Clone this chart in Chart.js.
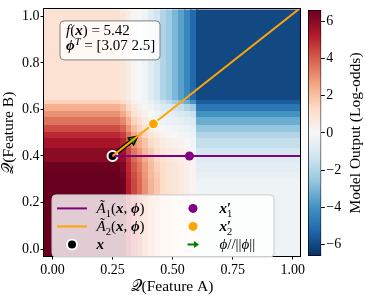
<!DOCTYPE html>
<html>
<head>
<meta charset="utf-8">
<script src="https://cdn.jsdelivr.net/npm/chart.js@4.4.1/dist/chart.umd.min.js"></script>
<style>
  html, body { margin: 0; padding: 0; background: #fff; }
  #wrap { position: relative; width: 366px; height: 298px; }
  #main { position: absolute; left: 0; top: 0; }
  #cbar { position: absolute; left: 300px; top: 0; }
</style>
</head>
<body>
<div id="wrap">
  <canvas id="main" width="366" height="298"></canvas>
  <canvas id="cbar" width="66" height="298"></canvas>
</div>
<script>
// heatmap grid (column / row edges in feature units)
const heatXEdges = [-0.035, 0.285, 0.31, 0.33, 0.355, 0.375, 0.40, 0.425, 0.45, 0.475, 0.50, 0.525, 0.55, 0.575, 0.60, 1.03];
const heatYEdges = [1.03, 0.64, 0.62, 0.59, 0.565, 0.53, 0.50, 0.475, 0.43, 0.40, 0.37, 0.33, 0.30, -0.03]; // top -> bottom
// model output (log-odds), one row per y band, top -> bottom
const modelOutput = [
  [1.0, 0.8, 0.5, 0.1, 0.0, -0.3, -0.8, -1.3, -2.0, -2.4, -3.0, -3.6, -4.3, -5.2, -6.0],
  [1.5, 1.2, 0.8, 0.3, 0.1, -0.2, -0.5, -0.9, -1.4, -1.8, -2.3, -2.8, -3.3, -4.0, -5.5],
  [2.4, 2.0, 1.3, 0.7, 0.4, 0.1, -0.2, -0.5, -0.8, -1.0, -1.3, -1.6, -2.0, -2.4, -4.8],
  [3.0, 2.6, 1.8, 1.0, 0.6, 0.3, 0.0, -0.3, -0.5, -0.6, -0.8, -1.0, -1.2, -1.5, -4.0],
  [3.6, 3.2, 2.4, 1.5, 1.0, 0.6, 0.2, -0.1, -0.3, -0.4, -0.5, -0.6, -0.8, -1.0, -3.3],
  [4.3, 3.9, 3.0, 2.0, 1.5, 1.0, 0.5, 0.2, 0.0, -0.1, -0.2, -0.3, -0.4, -0.6, -2.6],
  [5.0, 4.6, 3.6, 2.6, 2.0, 1.4, 0.9, 0.5, 0.2, 0.1, 0.0, -0.1, -0.2, -0.4, -2.0],
  [5.5, 5.1, 4.0, 3.0, 2.5, 1.9, 1.3, 0.9, 0.5, 0.4, 0.3, 0.2, 0.0, -0.2, -1.6],
  [6.0, 5.6, 4.5, 3.5, 2.9, 2.2, 1.7, 1.2, 0.8, 0.6, 0.5, 0.4, 0.3, 0.1, -1.2],
  [6.0, 5.8, 4.8, 3.8, 3.2, 2.5, 1.9, 1.4, 1.0, 0.8, 0.6, 0.5, 0.4, 0.2, -0.9],
  [6.5, 6.2, 5.0, 4.1, 3.5, 2.8, 2.1, 1.6, 1.2, 1.0, 0.8, 0.6, 0.4, 0.2, -0.7],
  [6.6, 6.4, 5.1, 4.3, 3.7, 2.9, 2.2, 1.7, 1.2, 1.0, 0.8, 0.6, 0.4, 0.2, -0.5],
  [6.6, 6.5, 5.2, 4.4, 3.8, 3.0, 2.3, 1.8, 1.2, 1.0, 0.8, 0.6, 0.4, 0.2, -0.3]
];
const colorMin = -6.6, colorMax = 6.6;
const colorbarTicks = [-6, -4, -2, 0, 2, 4, 6];
const xTicks = [0, 0.25, 0.5, 0.75, 1.0];
const yTicks = [0, 0.2, 0.4, 0.6, 0.8, 1.0];

const pointX = [0.25], pointY = [0.4];
const a1LineX = [0.25, 1.03], a1LineY = [0.4, 0.4];
const a2LineX = [0.25, 1.03], a2LineY = [0.4, 1.035];
const x1PrimeX = [0.57], x1PrimeY = [0.4];
const x2PrimeX = [0.42], x2PrimeY = [0.538];
const arrowX = [0.25, 0.356], arrowY = [0.4, 0.486];

const fValue = "5.42";
const phiValue = "[3.07 2.5]";

// RdBu_r
const cmap = ["#053061", "#2166ac", "#4393c3", "#92c5de", "#d1e5f0", "#f7f7f7",
              "#fddbc7", "#f4a582", "#d6604d", "#b2182b", "#67001f"];

const SERIF = '"Liberation Serif", "DejaVu Serif", serif';
const PURPLE = "#800080", ORANGE = "#ffa500", GREEN = "#008000";

const pts = (xs, ys) => xs.map((x, i) => ({ x: x, y: ys[i] }));

function hexRgb(h) {
  return [parseInt(h.slice(1, 3), 16), parseInt(h.slice(3, 5), 16), parseInt(h.slice(5, 7), 16)];
}
const cmapRgb = cmap.map(hexRgb);
function colorFor(v) {
  let t = (v - colorMin) / (colorMax - colorMin);
  t = Math.max(0, Math.min(1, t)) * (cmap.length - 1);
  const i = Math.min(Math.floor(t), cmap.length - 2);
  const f = t - i;
  const a = cmapRgb[i], b = cmapRgb[i + 1];
  const c = a.map((av, k) => Math.round(av + (b[k] - av) * f));
  return `rgb(${c[0]},${c[1]},${c[2]})`;
}

// text with math-like runs: i = italic, b = bold, ^ = superscript, _ = subscript, & = no advance
function drawMath(ctx, x, y, runs, size) {
  let cx = x;
  ctx.textAlign = "left";
  ctx.textBaseline = "alphabetic";
  for (const [t, s] of runs) {
    let fs = size, dy = 0;
    if (s.includes("^")) { fs = size * 0.7; dy = -size * 0.38; }
    if (s.includes("_")) { fs = size * 0.7; dy = size * 0.22; }
    ctx.font = `${s.includes("i") ? "italic " : ""}${s.includes("b") ? "bold " : ""}${fs}px ${SERIF}`;
    ctx.fillText(t, cx, y + dy);
    if (!s.includes("&")) cx += ctx.measureText(t).width;
  }
}

function roundBox(ctx, x, y, w, h, r, fill, stroke) {
  ctx.beginPath();
  ctx.moveTo(x + r, y);
  ctx.arcTo(x + w, y, x + w, y + h, r);
  ctx.arcTo(x + w, y + h, x, y + h, r);
  ctx.arcTo(x, y + h, x, y, r);
  ctx.arcTo(x, y, x + w, y, r);
  ctx.closePath();
  ctx.fillStyle = fill;
  ctx.fill();
  ctx.strokeStyle = stroke;
  ctx.lineWidth = 1;
  ctx.stroke();
}

function arrowPath(ctx, x0, y0, x1, y1, w, hw, hl) {
  const len = Math.hypot(x1 - x0, y1 - y0);
  const ux = (x1 - x0) / len, uy = (y1 - y0) / len;
  const nx = -uy, ny = ux;
  const bx = x1 - ux * hl, by = y1 - uy * hl;
  ctx.beginPath();
  ctx.moveTo(x0 + nx * w, y0 + ny * w);
  ctx.lineTo(bx + nx * w, by + ny * w);
  ctx.lineTo(bx + nx * hw, by + ny * hw);
  ctx.lineTo(x1, y1);
  ctx.lineTo(bx - nx * hw, by - ny * hw);
  ctx.lineTo(bx - nx * w, by - ny * w);
  ctx.lineTo(x0 - nx * w, y0 - ny * w);
  ctx.closePath();
}

const heatmapPlugin = {
  id: "heatmap",
  beforeDatasetsDraw(chart) {
    const { ctx, chartArea: ca, scales: { x, y } } = chart;
    ctx.save();
    ctx.beginPath();
    ctx.rect(ca.left, ca.top, ca.width, ca.height);
    ctx.clip();
    modelOutput.forEach((row, r) => {
      row.forEach((v, c) => {
        const x0 = x.getPixelForValue(heatXEdges[c]), x1 = x.getPixelForValue(heatXEdges[c + 1]);
        const y0 = y.getPixelForValue(heatYEdges[r]), y1 = y.getPixelForValue(heatYEdges[r + 1]);
        ctx.fillStyle = colorFor(v);
        ctx.fillRect(Math.floor(x0), Math.floor(y0), Math.ceil(x1) - Math.floor(x0) + 1, Math.ceil(y1) - Math.floor(y0) + 1);
      });
    });
    // phi / ||phi|| arrow
    const ax0 = x.getPixelForValue(arrowX[0]), ay0 = y.getPixelForValue(arrowY[0]);
    const ax1 = x.getPixelForValue(arrowX[1]), ay1 = y.getPixelForValue(arrowY[1]);
    arrowPath(ctx, ax0, ay0, ax1, ay1, 1.6, 4.5, 9);
    ctx.fillStyle = GREEN;
    ctx.fill();
    ctx.strokeStyle = "#000";
    ctx.lineWidth = 1.2;
    ctx.stroke();
    ctx.restore();
  },
  afterDatasetsDraw(chart) {
    const { ctx, chartArea: ca } = chart;
    ctx.save();
    ctx.strokeStyle = "#000";
    ctx.lineWidth = 1;
    ctx.strokeRect(Math.round(ca.left) - 0.5, Math.round(ca.top) - 0.5, Math.round(ca.width) + 1, Math.round(ca.height) + 1);
    ctx.restore();
  },
  afterDraw(chart) {
    const { ctx, chartArea: ca } = chart;
    ctx.save();
    // info box
    roundBox(ctx, ca.left + 16, ca.top + 11.5, 100, 39, 4, "rgba(255,255,255,0.8)", "#808080");
    ctx.fillStyle = "#000";
    drawMath(ctx, ca.left + 22, ca.top + 25.5, [["f", "i"], ["(", ""], ["x", "ib"], [") = " + fValue, ""]], 15);
    drawMath(ctx, ca.left + 22, ca.top + 41, [["ϕ", "ib"], ["T", "i^"], [" = " + phiValue, ""]], 15);

    // legend
    const lx = ca.left + 8, ly = ca.top + 185.5;
    roundBox(ctx, lx, ly, 222, 62, 4, "rgba(255,255,255,0.8)", "#cccccc");
    const rowY = [ly + 13.5, ly + 31.5, ly + 49.5];
    const c1 = lx + 5, c2 = lx + 141;
    // column 1
    ctx.lineWidth = 2;
    ctx.strokeStyle = PURPLE;
    ctx.beginPath(); ctx.moveTo(c1, rowY[0]); ctx.lineTo(c1 + 30, rowY[0]); ctx.stroke();
    ctx.strokeStyle = ORANGE;
    ctx.beginPath(); ctx.moveTo(c1, rowY[1]); ctx.lineTo(c1 + 30, rowY[1]); ctx.stroke();
    ctx.beginPath(); ctx.arc(c1 + 15, rowY[2], 5, 0, Math.PI * 2);
    ctx.fillStyle = "#000"; ctx.fill();
    ctx.strokeStyle = "#fff"; ctx.lineWidth = 2; ctx.stroke();
    ctx.fillStyle = "#000";
    const tx1 = c1 + 39.5;
    drawMath(ctx, tx1, rowY[0] + 5, [["Ã", "i"], ["1", "_"], ["(", ""], ["x", "ib"], [", ", ""], ["ϕ", "ib"], [")", ""]], 15);
    drawMath(ctx, tx1, rowY[1] + 5, [["Ã", "i"], ["2", "_"], ["(", ""], ["x", "ib"], [", ", ""], ["ϕ", "ib"], [")", ""]], 15);
    drawMath(ctx, tx1, rowY[2] + 5, [["x", "ib"]], 15);
    // column 2
    ctx.beginPath(); ctx.arc(c2, rowY[0], 4.5, 0, Math.PI * 2);
    ctx.fillStyle = PURPLE; ctx.fill();
    ctx.beginPath(); ctx.arc(c2, rowY[1], 4.5, 0, Math.PI * 2);
    ctx.fillStyle = ORANGE; ctx.fill();
    arrowPath(ctx, c2 - 5.5, rowY[2], c2 + 6, rowY[2], 1, 3.5, 5);
    ctx.fillStyle = GREEN; ctx.fill();
    ctx.fillStyle = "#000";
    const tx2 = c2 + 26.5;
    drawMath(ctx, tx2, rowY[0] + 5, [["x", "ib"], ["′", "b&"], ["1", "_"]], 15);
    drawMath(ctx, tx2, rowY[1] + 5, [["x", "ib"], ["′", "b&"], ["2", "_"]], 15);
    drawMath(ctx, tx2, rowY[2] + 5, [["ϕ", "i"], ["//||", ""], ["ϕ", "i"], ["||", ""]], 15);
    ctx.restore();
  }
};

const tickFont = { family: SERIF, size: 14 };
const titleFont = { family: SERIF, size: 15.5, lineHeight: 1 };

new Chart(document.getElementById("main"), {
  type: "scatter",
  data: {
    datasets: [
      { data: pts(x2PrimeX, x2PrimeY), backgroundColor: ORANGE, borderColor: "#fff", borderWidth: 1.2, pointRadius: 5, order: 0 },
      { data: pts(x1PrimeX, x1PrimeY), backgroundColor: PURPLE, borderColor: PURPLE, borderWidth: 0, pointRadius: 4.5, order: 1 },
      { data: pts(a2LineX, a2LineY), showLine: true, borderColor: ORANGE, borderWidth: 2, pointRadius: 0, order: 2 },
      { data: pts(a1LineX, a1LineY), showLine: true, borderColor: PURPLE, borderWidth: 2, pointRadius: 0, order: 3 },
      { data: pts(pointX, pointY), backgroundColor: "#000", borderColor: "#fff", borderWidth: 2, pointRadius: 5, order: 4 }
    ]
  },
  options: {
    responsive: false,
    animation: false,
    events: [],
    layout: { padding: { left: 0, right: 66, top: 1.5, bottom: 0 } },
    plugins: { legend: { display: false }, tooltip: { enabled: false } },
    scales: {
      x: {
        type: "linear", min: -0.035, max: 1.03,
        afterBuildTicks: s => { s.ticks = xTicks.map(v => ({ value: v })); },
        afterFit: s => { s.height = 42; },
        ticks: { font: tickFont, color: "#000", padding: 2, maxRotation: 0, autoSkip: false, callback: v => v.toFixed(2) },
        grid: { drawOnChartArea: false, tickLength: 3.5, color: "#000" },
        border: { display: false },
        title: { display: true, text: "𝒬(Feature A)", font: titleFont, color: "#000", padding: { top: 0, bottom: 3 } }
      },
      y: {
        type: "linear", min: -0.03, max: 1.03,
        afterBuildTicks: s => { s.ticks = yTicks.map(v => ({ value: v })); },
        afterFit: s => { s.width = 44; },
        ticks: { font: tickFont, color: "#000", padding: 1, autoSkip: false, callback: v => v.toFixed(1) },
        grid: { drawOnChartArea: false, tickLength: 3.5, color: "#000" },
        border: { display: false },
        title: { display: true, text: "𝒬(Feature B)", font: titleFont, color: "#000", padding: { top: 1, bottom: 0 } }
      }
    }
  },
  plugins: [heatmapPlugin]
});

// colorbar
const cbarTitlePlugin = {
  id: "cbarTitle",
  afterDraw(chart) {
    const { ctx, chartArea: ca } = chart;
    ctx.save();
    ctx.translate(56, (ca.top + ca.bottom) / 2);
    ctx.rotate(-Math.PI / 2);
    ctx.font = `15.5px ${SERIF}`;
    ctx.fillStyle = "#000";
    ctx.textAlign = "center";
    ctx.textBaseline = "middle";
    ctx.fillText("Model Output (Log-odds)", 0, 0);
    ctx.restore();
  }
};

new Chart(document.getElementById("cbar"), {
  type: "bar",
  data: {
    labels: [""],
    datasets: [{
      data: [[colorMin, colorMax]],
      backgroundColor: c => {
        const ch = c.chart;
        if (!ch.chartArea) return cmap[5];
        const ys = ch.scales.y;
        const g = ch.ctx.createLinearGradient(0, ys.getPixelForValue(colorMin), 0, ys.getPixelForValue(colorMax));
        cmap.forEach((col, i) => g.addColorStop(i / (cmap.length - 1), col));
        return g;
      },
      borderColor: "#000",
      borderWidth: 1,
      borderSkipped: false,
      barPercentage: 1,
      categoryPercentage: 1
    }]
  },
  options: {
    responsive: false,
    animation: false,
    events: [],
    layout: { padding: { left: 8, right: 0, top: 1.5, bottom: 42 } },
    plugins: { legend: { display: false }, tooltip: { enabled: false } },
    scales: {
      x: { display: false },
      y: {
        position: "right", min: colorMin, max: colorMax,
        afterBuildTicks: s => { s.ticks = colorbarTicks.map(v => ({ value: v })); },
        afterFit: s => { s.width = 44.7; },
        ticks: { font: tickFont, color: "#000", padding: 1.5, callback: v => (v < 0 ? "\u2212" + Math.abs(v) : String(v)) },
        grid: { drawOnChartArea: false, tickLength: 3.5, color: "#000" },
        border: { display: false }
      }
    }
  },
  plugins: [cbarTitlePlugin]
});
</script>
</body>
</html>
